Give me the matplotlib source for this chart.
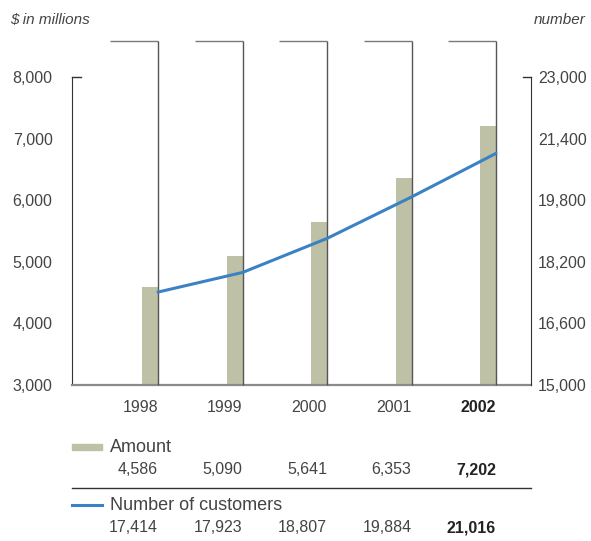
import matplotlib.pyplot as plt
from matplotlib.transforms import blended_transform_factory

plt.rcParams['font.family'] = ['Liberation Sans', 'DejaVu Sans']

years = ["1998", "1999", "2000", "2001", "2002"]
amount = [4586, 5090, 5641, 6353, 7202]
customers = [17414, 17923, 18807, 19884, 21016]
amount_ticks = [3000, 4000, 5000, 6000, 7000, 8000]
customer_ticks = [15000, 16600, 18200, 19800, 21400, 23000]

BAR_COLOR = "#bfc1a6"
LINE_COLOR = "#3b82c4"
TEXT_COLOR = "#444444"

W, H = 591, 541
fig = plt.figure(figsize=(W / 100, H / 100), dpi=100)

# axes box in pixels: x 72..531, y 41..385
ax = fig.add_axes([72 / W, 1 - 385 / H, (531 - 72) / W, (385 - 41) / H])
ax2 = ax.twinx()

# left scale: 3000 at 385px, 8000 at 77px
px_per_unit = (385 - 77) / (amount_ticks[-1] - amount_ticks[0])
top_left = amount_ticks[0] + (385 - 41) / px_per_unit
ax.set_ylim(amount_ticks[0], top_left)
ratio = (customer_ticks[-1] - customer_ticks[0]) / (amount_ticks[-1] - amount_ticks[0])
ax2.set_ylim(customer_ticks[0], customer_ticks[0] + (top_left - amount_ticks[0]) * ratio)

step = 84.5
x0 = (72 - 158) / step
x1 = (531 - 158) / step
ax.set_xlim(x0, x1)
xs = list(range(len(years)))

# bars sit just left of each vertical rule
ax.bar(xs, amount, width=-16 / step, align="edge", color=BAR_COLOR, zorder=2)

# bracket rules
for x in xs:
    ax.plot([x - 48 / step, x], [top_left, top_left], color="#7a7a7a", lw=1.0,
            clip_on=False, zorder=3, solid_capstyle="butt")
    ax.plot([x, x], [amount_ticks[0], top_left], color="#555555", lw=1.0,
            clip_on=False, zorder=3, solid_capstyle="butt")

ax2.plot(xs, customers, color=LINE_COLOR, lw=2.2, zorder=4, solid_capstyle="round")

for a in (ax, ax2):
    for s in ("top",):
        a.spines[s].set_visible(False)
ax.spines["right"].set_visible(False)
ax2.spines["left"].set_visible(False)
ax2.spines["bottom"].set_visible(False)
ax.spines["left"].set_bounds(amount_ticks[0], amount_ticks[-1])
ax.spines["left"].set_color("#333333")
ax2.spines["right"].set_bounds(customer_ticks[0], customer_ticks[-1])
ax2.spines["right"].set_color("#333333")
ax.spines["bottom"].set_color("#8a8a8a")
ax.spines["bottom"].set_linewidth(1.6)

# corner stubs at the top ticks
ax.plot([x0, x0 + 9 / step], [amount_ticks[-1], amount_ticks[-1]], color="#333333",
        lw=1.0, clip_on=False)
ax2.plot([x1 - 8 / step, x1], [customer_ticks[-1], customer_ticks[-1]], color="#333333",
         lw=1.0, clip_on=False)

ax.set_yticks(amount_ticks)
ax.set_yticklabels([f"{v:,}" for v in amount_ticks])
ax2.set_yticks(customer_ticks)
ax2.set_yticklabels([f"{v:,}" for v in customer_ticks])
ax.tick_params(axis="y", length=0, pad=14, labelsize=11.5, labelcolor=TEXT_COLOR)
ax2.tick_params(axis="y", length=0, pad=5, labelsize=11.5, labelcolor=TEXT_COLOR)
ax.set_xticks([])

fig.text(10 / W, 1 - 20 / H, "$ in millions", style="italic", fontsize=11,
         color=TEXT_COLOR, ha="left", va="center")
fig.text(586 / W, 1 - 20 / H, "number", style="italic", fontsize=11,
         color=TEXT_COLOR, ha="right", va="center")

tr = blended_transform_factory(ax.transData, fig.transFigure)


def row(values, ypx):
    for i, v in enumerate(values):
        last = i == len(values) - 1
        ax.text(xs[i], 1 - ypx / H, v, transform=tr, ha="right", va="center",
                fontsize=11.5, color="#222222" if last else TEXT_COLOR,
                fontweight="bold" if last else "normal")


row(years, 408)
row([f"{v:,}" for v in amount], 470)
row([f"{v:,}" for v in customers], 528)

# legend rows
ax.add_patch(plt.Rectangle((x0, 1 - 450 / H), 30 / step, 6 / H, transform=tr,
                           color=BAR_COLOR, clip_on=False))
ax.text(x0 + 38 / step, 1 - 447 / H, "Amount", transform=tr, ha="left", va="center",
        fontsize=13, color=TEXT_COLOR)
ax.plot([x0, x1], [1 - 488 / H, 1 - 488 / H], transform=tr, color="#333333", lw=1.0,
        clip_on=False)
ax.plot([x0, x0 + 30 / step], [1 - 505 / H, 1 - 505 / H], transform=tr,
        color=LINE_COLOR, lw=2.2, clip_on=False)
ax.text(x0 + 38 / step, 1 - 505 / H, "Number of customers", transform=tr, ha="left",
        va="center", fontsize=13, color=TEXT_COLOR)

fig.savefig("out.png", dpi=100)
